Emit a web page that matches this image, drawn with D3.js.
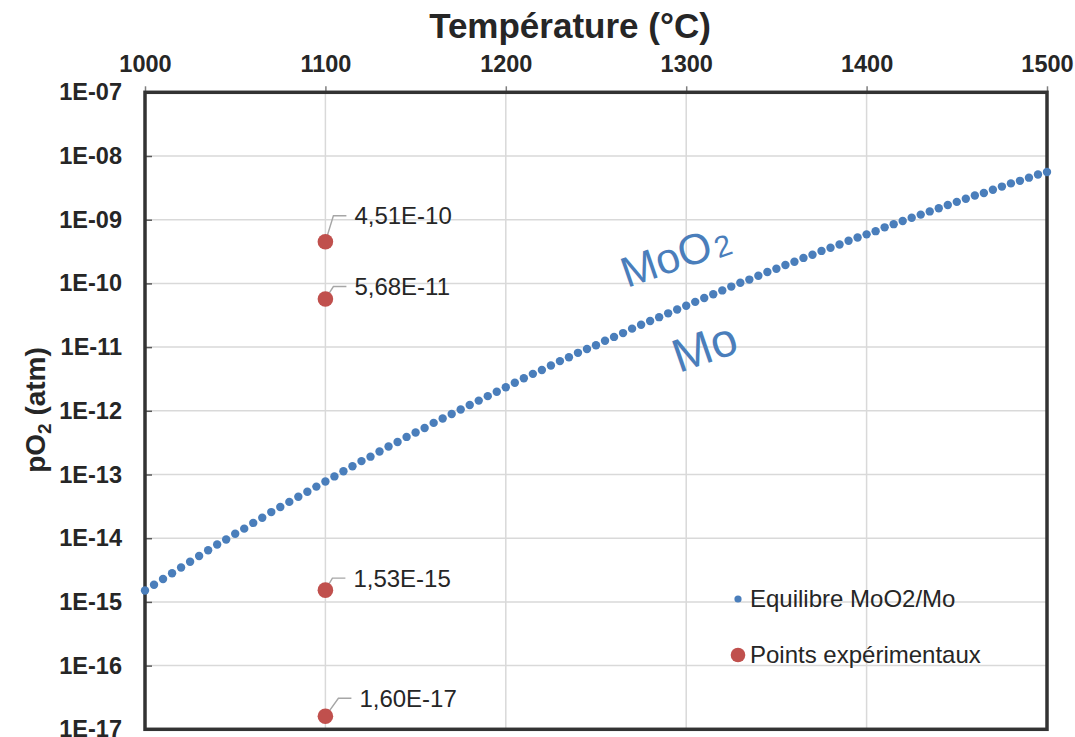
<!DOCTYPE html>
<html>
<head>
<meta charset="utf-8">
<script src="https://cdn.jsdelivr.net/npm/d3@7"></script>
<style>
  html, body { margin: 0; padding: 0; background: #ffffff; }
  svg { display: block; font-family: "Liberation Sans", Arial, sans-serif; }
</style>
</head>
<body>
<svg id="chart" width="1075" height="737"></svg>
<script>
// ---------------- DATA ----------------
const temperatures = [1000,1005,1010,1015,1020,1025,1030,1035,1040,1045,
  1050,1055,1060,1065,1070,1075,1080,1085,1090,1095,
  1100,1105,1110,1115,1120,1125,1130,1135,1140,1145,
  1150,1155,1160,1165,1170,1175,1180,1185,1190,1195,
  1200,1205,1210,1215,1220,1225,1230,1235,1240,1245,
  1250,1255,1260,1265,1270,1275,1280,1285,1290,1295,
  1300,1305,1310,1315,1320,1325,1330,1335,1340,1345,
  1350,1355,1360,1365,1370,1375,1380,1385,1390,1395,
  1400,1405,1410,1415,1420,1425,1430,1435,1440,1445,
  1450,1455,1460,1465,1470,1475,1480,1485,1490,1495,1500];
// log10(pO2) of the MoO2/Mo equilibrium
const equilibriumLogPO2 = [-14.82,-14.73,-14.64,-14.55,-14.46,-14.37,-14.28,-14.19,-14.10,-14.02,
  -13.93,-13.85,-13.76,-13.68,-13.59,-13.51,-13.43,-13.35,-13.27,-13.19,
  -13.11,-13.03,-12.95,-12.87,-12.79,-12.72,-12.64,-12.56,-12.49,-12.41,
  -12.34,-12.27,-12.19,-12.12,-12.05,-11.98,-11.91,-11.84,-11.77,-11.70,
  -11.63,-11.56,-11.49,-11.42,-11.36,-11.29,-11.22,-11.16,-11.09,-11.03,
  -10.97,-10.90,-10.84,-10.78,-10.71,-10.65,-10.59,-10.53,-10.47,-10.41,
  -10.35,-10.29,-10.23,-10.17,-10.11,-10.05,-9.99,-9.94,-9.88,-9.82,
  -9.77,-9.71,-9.66,-9.60,-9.55,-9.49,-9.44,-9.39,-9.33,-9.28,
  -9.23,-9.18,-9.12,-9.07,-9.02,-8.97,-8.92,-8.87,-8.82,-8.77,
  -8.72,-8.67,-8.62,-8.58,-8.53,-8.48,-8.43,-8.39,-8.34,-8.29,-8.25];

const expTemperatures = [1100, 1100, 1100, 1100];
const expPO2 = [4.51e-10, 5.68e-11, 1.53e-15, 1.60e-17];
const expLabels = ["4,51E-10", "5,68E-11", "1,53E-15", "1,60E-17"];

const xTickValues = [1000, 1100, 1200, 1300, 1400, 1500];
const yTickValues = [1e-7, 1e-8, 1e-9, 1e-10, 1e-11, 1e-12, 1e-13, 1e-14, 1e-15, 1e-16, 1e-17];
const yTickLabels = ["1E-07","1E-08","1E-09","1E-10","1E-11","1E-12","1E-13","1E-14","1E-15","1E-16","1E-17"];

const xTitle = "Température (°C)";
const legendLabels = ["Equilibre MoO2/Mo", "Points expérimentaux"];

// ---------------- LAYOUT / STYLE ----------------
const plot = { left: 145, right: 1047, top: 92.3, bottom: 729.3 };
const blue = "#4a7ebb";
const red = "#c0504d";
const textColor = "#262626";
// data-label offsets (text left / text middle relative to the point)
const labelOffsets = [[29, -26], [29, -12.5], [28, -12], [34, -18]];

const svg = d3.select("#chart");

const x = d3.scaleLinear().domain([1000, 1500]).range([plot.left, plot.right]);
const y = d3.scaleLog().domain([1e-17, 1e-7]).range([plot.bottom, plot.top]);

// gridlines
const grid = svg.append("g");
grid.selectAll("line.v").data(xTickValues.slice(1, -1)).join("line")
  .attr("x1", d => x(d)).attr("x2", d => x(d))
  .attr("y1", plot.top).attr("y2", plot.bottom)
  .attr("stroke", "#d9d9d9").attr("stroke-width", 1.5);
grid.selectAll("line.h").data(yTickValues.slice(1, -1)).join("line")
  .attr("x1", plot.left).attr("x2", plot.right)
  .attr("y1", d => y(d)).attr("y2", d => y(d))
  .attr("stroke", "#d9d9d9").attr("stroke-width", 1.5);

// top x axis
const xAxis = d3.axisTop(x).tickValues(xTickValues).tickFormat(d3.format("d"))
  .tickSize(6).tickPadding(14);
const gx = svg.append("g").attr("transform", `translate(0,${plot.top})`).call(xAxis);
gx.select(".domain").remove();
gx.selectAll(".tick line").attr("stroke", "#7f7f7f").attr("stroke-width", 1.5);
gx.selectAll(".tick text").attr("fill", textColor).attr("font-size", 23.5)
  .attr("font-weight", "bold").attr("font-family", "Liberation Sans, Arial, sans-serif");

// left y axis (ticks inward)
const yAxis = d3.axisLeft(y).tickValues(yTickValues)
  .tickFormat((d, i) => yTickLabels[i]).tickSize(-7).tickPadding(23);
const gy = svg.append("g").attr("transform", `translate(${plot.left},0)`).call(yAxis);
gy.select(".domain").remove();
gy.selectAll(".tick line").attr("stroke", "#595959").attr("stroke-width", 1.5);
gy.selectAll(".tick text").attr("fill", textColor).attr("font-size", 23.5)
  .attr("font-weight", "bold").attr("font-family", "Liberation Sans, Arial, sans-serif");

// frame
svg.append("rect")
  .attr("x", plot.left).attr("y", plot.top)
  .attr("width", plot.right - plot.left).attr("height", plot.bottom - plot.top)
  .attr("fill", "none").attr("stroke", "#333333").attr("stroke-width", 3.5);

// equilibrium series
svg.append("g").selectAll("circle").data(temperatures).join("circle")
  .attr("cx", d => x(d))
  .attr("cy", (d, i) => y(Math.pow(10, equilibriumLogPO2[i])))
  .attr("r", 4.2).attr("fill", blue);

// experimental points + leaders + labels
const exp = svg.append("g");
expTemperatures.forEach((t, i) => {
  const px = x(t), py = y(expPO2[i]);
  const tx = px + labelOffsets[i][0], ty = py + labelOffsets[i][1];
  exp.append("polyline")
    .attr("points", `${px},${py} ${tx - 21},${ty} ${tx - 8},${ty}`)
    .attr("fill", "none").attr("stroke", "#a6a6a6").attr("stroke-width", 1.4);
  exp.append("circle").attr("cx", px).attr("cy", py).attr("r", 7.8).attr("fill", red);
  exp.append("text").attr("x", tx).attr("y", ty).attr("dy", "0.35em")
    .attr("font-size", 24).attr("fill", textColor).text(expLabels[i]);
});

// phase annotations
svg.append("text")
  .attr("transform", "translate(627,288) rotate(-19)")
  .attr("font-size", 43).attr("fill", blue)
  .call(t => {
    t.append("tspan").text("MoO");
    t.append("tspan").attr("font-size", 30).attr("dy", 2).attr("dx", 3).text("2");
  });
svg.append("text")
  .attr("transform", "translate(679,373) rotate(-19)")
  .attr("font-size", 47).attr("fill", blue).text("Mo");

// titles
svg.append("text").attr("x", 570).attr("y", 38).attr("text-anchor", "middle")
  .attr("font-size", 35).attr("font-weight", "bold").attr("fill", textColor).text(xTitle);

svg.append("text")
  .attr("transform", "translate(45,410) rotate(-90)")
  .attr("text-anchor", "middle").attr("font-size", 28).attr("font-weight", "bold").attr("fill", textColor)
  .call(t => {
    t.append("tspan").text("pO");
    t.append("tspan").attr("font-size", 19).attr("dy", 6).text("2");
    t.append("tspan").attr("dy", -6).text(" (atm)");
  });

// legend
const legend = svg.append("g");
legend.append("circle").attr("cx", 738).attr("cy", 599).attr("r", 3.6).attr("fill", blue);
legend.append("text").attr("x", 750).attr("y", 607).attr("font-size", 24).attr("fill", textColor).text(legendLabels[0]);
legend.append("circle").attr("cx", 738).attr("cy", 655).attr("r", 7.3).attr("fill", red);
legend.append("text").attr("x", 750).attr("y", 663).attr("font-size", 24).attr("fill", textColor).text(legendLabels[1]);
</script>
</body>
</html>
